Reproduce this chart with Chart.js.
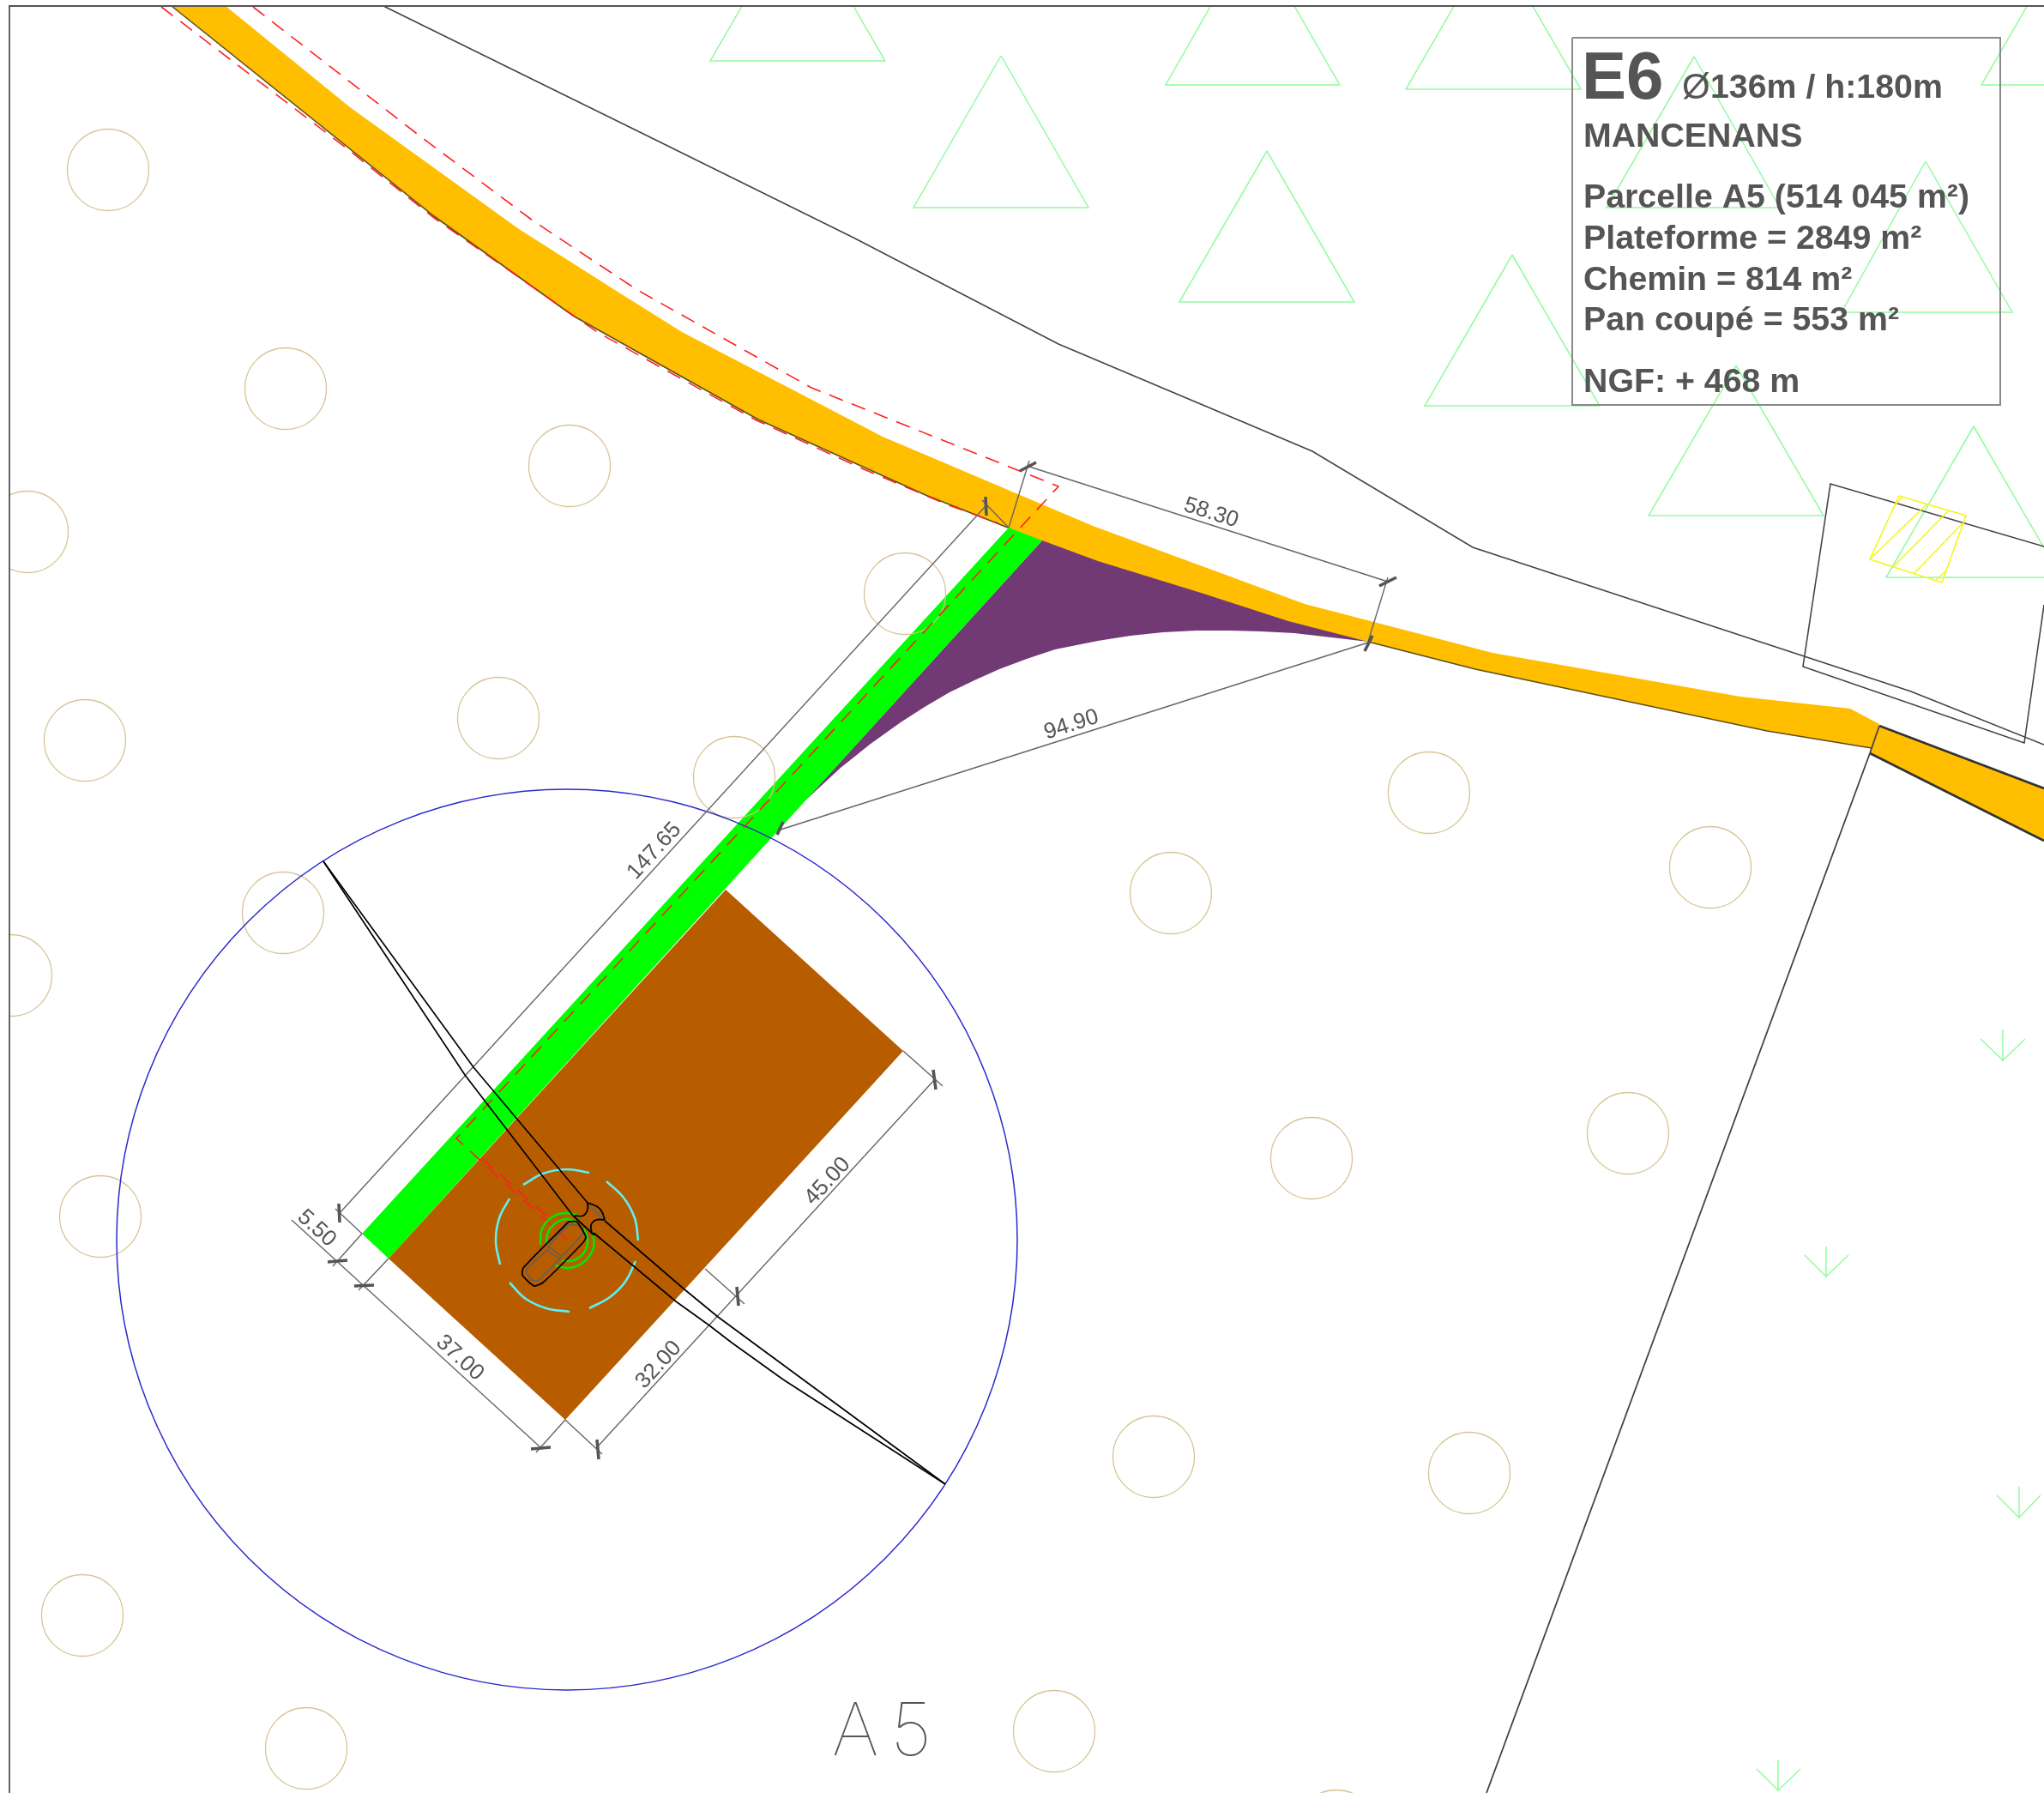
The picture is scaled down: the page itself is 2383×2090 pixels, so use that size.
<!DOCTYPE html>
<html lang="fr">
<head>
  <meta charset="UTF-8">
  <title>E6 - Mancenans</title>
  <script src="https://cdn.jsdelivr.net/npm/chart.js"></script>
  <style>
    body { margin: 0; background: #fff; }
    canvas { display: block; }
  </style>
</head>
<body>
  <canvas id="plan" width="2383" height="2090"></canvas>

  <script>
    // All coordinates are plan units
    const frameTop = [[10, 7], [2383, 7]];
    const frameLeft = [[11, 7], [11, 2090]];

    const treeCenters = [[126, 198], [333, 453], [664, 543], [32, 620], [99, 863], [581, 837], [1055, 692], [856, 906],
      [330, 1064], [13, 1137], [117, 1418], [1666, 924], [1994, 1011], [1365, 1041], [1529, 1350], [1898, 1321],
      [1345, 1698], [1713, 1717], [96, 1883], [357, 2038], [1229, 2018], [1558, 2134]];
    const rotorCenter = [[661, 1445]];

    const forestTriangles = [
      [[930, -105], [1032, 71], [828, 71]],
      [[1460, -78], [1562, 99], [1359, 99]],
      [[1741, -72], [1843, 104], [1639, 104]],
      [[1167, 65], [1269, 242], [1065, 242]],
      [[1477, 176], [1579, 352], [1375, 352]],
      [[1763, 297], [1865, 473], [1661, 473]],
      [[1975, 66], [2075, 242], [1873, 242]],
      [[2245, 188], [2346, 364], [2147, 364]],
      [[2412, -77], [2514, 99], [2310, 99]],
      [[2024, 426], [2126, 601], [1922, 601]],
      [[2301, 497], [2403, 673], [2199, 673]]
    ];
    const meadowArrows = [
      [[2309, 1211], [2335, 1236], [2361, 1211], [2335, 1236], [2335, 1200]],
      [[2104, 1463], [2129, 1488], [2155, 1463], [2129, 1488], [2129, 1453]],
      [[2328, 1743], [2354, 1769], [2379, 1743], [2354, 1769], [2354, 1733]],
      [[2048, 2062], [2073, 2087], [2099, 2062], [2073, 2087], [2073, 2051]]
    ];

    const roadSouthEdge = [[200, 7], [506, 252], [668, 368], [884, 489], [1079, 577], [1175, 615]];
    const roadEastEdge = [[1595, 748], [1720, 780], [2060, 852], [2182, 872]];
    const roadNorthEdge = [[263, 7], [408, 125], [605, 267], [720, 340], [795, 387], [1029, 509], [1274, 613], [1521, 704],
      [1740, 761], [2029, 812], [2157, 826], [2191, 844]];
    const roadFill = [...roadNorthEdge, [2182, 872], [2060, 852], [1720, 780], [1595, 748], [1502, 726], [1400, 694], [1280, 657],
      [1215, 632], [1175, 615], [1079, 577], [884, 489], [668, 368], [506, 252], [200, 7]];
    const secondRoad = [[2180, 878], [2191, 846], [2383, 919], [2383, 980], [2180, 878]];

    const northLane = [[447, 7], [750, 156], [995, 277], [1234, 401], [1530, 526], [1717, 638], [2000, 731], [2228, 806], [2383, 868]];
    const parcelLine = [[2191, 846], [2180, 878], [1733, 2090]];
    const building = [[2383, 637], [2134, 564], [2102, 777], [2360, 866], [2383, 705]];
    const yellowRect = [[2214, 578], [2292, 601], [2264, 679], [2180, 652], [2214, 578]];
    const yellowHatch = [
      [[2180, 652], [2246, 588]],
      [[2206, 662], [2272, 595]],
      [[2231, 669], [2288, 610]],
      [[2257, 676], [2269, 665]],
      [[2210, 588], [2218, 579]]
    ];

    const pathFill = [[1176, 615], [1215, 630], [453, 1467], [422, 1438]];
    const platformFill = [[846, 1037], [1053, 1225], [659, 1655], [453, 1467]];
    const cutFill = [[1215, 630], [1280, 654], [1400, 691], [1502, 724], [1595, 748], [1552, 743], [1509, 738], [1470, 736], [1433, 735],
      [1395, 735], [1356, 737], [1318, 741], [1280, 747], [1255, 752], [1230, 757], [1197, 768], [1165, 780], [1136, 793], [1107, 807],
      [1078, 824], [1050, 842], [1015, 867], [980, 895], [940, 932], [907, 968]];

    const easementNorth = [[295, 8], [494, 162], [621, 257], [743, 338], [946, 452], [1234, 567], [532, 1327], [662, 1446]];
    const easementInner = [[562, 1350], [640, 1420]];
    const easementSouth = [[188, 8], [403, 172], [506, 254], [696, 387], [882, 490], [1007, 547], [1104, 588], [1164, 610]];

    const dimensionLines = [
      [[1197, 543], [1618, 678]],
      [[907, 968], [1595, 749]],
      [[1149, 590], [395, 1415]],
      [[340, 1422], [630, 1687]],
      [[696, 1687], [1090, 1258]],
      [[1176, 615], [1200, 537]],
      [[1595, 748], [1618, 673]],
      [[1176, 615], [1145, 583]],
      [[422, 1438], [391, 1409]],
      [[422, 1438], [388, 1476]],
      [[453, 1467], [418, 1504]],
      [[659, 1655], [625, 1693]],
      [[659, 1655], [702, 1695]],
      [[1053, 1225], [1099, 1266]],
      [[822, 1479], [868, 1520]]
    ];
    const dimensionTicks = [
      [[1189, 549], [1208, 539]],
      [[1608, 683], [1628, 673]],
      [[1600, 741], [1591, 759]],
      [[913, 958], [906, 973]],
      [[1149, 579], [1150, 601]],
      [[395, 1403], [396, 1425]],
      [[382, 1471], [405, 1469]],
      [[413, 1499], [436, 1498]],
      [[619, 1689], [642, 1687]],
      [[696, 1678], [698, 1701]],
      [[859, 1500], [861, 1522]],
      [[1088, 1247], [1091, 1270]]
    ];
    const dimensionText = ['58.30', '94.90', '147.65', '5.50', '37.00', '32.00', '45.00'];
    const dimensionAnchors = [[1412, 598], [1249, 845], [763, 992], [369, 1432], [536, 1583], [768, 1591], [965, 1377]];
    const dimensionAngles = [17.8, -17.6, -47.6, 42.4, 42.4, -47.6, -47.6];

    const bladeOne = [
      [[377, 1004], [552, 1244], [685, 1402]],
      [[377, 1004], [542, 1253], [668, 1417]]
    ];
    const bladeTwo = [
      [[705, 1423], [798, 1503], [837, 1535], [1102, 1730]],
      [[692, 1437], [788, 1517], [827, 1545], [853, 1565], [913, 1608], [1102, 1730]]
    ];
    const hubCurves = [
      [[670, 1417], [680, 1417], [685, 1410], [685, 1402]],
      [[705, 1422], [695, 1422], [689, 1428], [690, 1437]],
      [[685, 1402], [697, 1407], [702, 1413], [705, 1422]]
    ];
    const hubBase = [[668, 1417], [693, 1440]];
    const hubGray = [[686, 1404], [703, 1421]];
    const nacelleOuter = [[663, 1424], [672, 1424], [678, 1432], [683, 1442], [680, 1448], [633, 1495], [623, 1499], [615, 1493],
      [609, 1486], [610, 1478], [663, 1424]];
    const nacelleInner = [[613, 1482], [620, 1492], [628, 1492], [678, 1440], [680, 1433], [672, 1428], [663, 1428], [640, 1452],
      [638, 1457], [615, 1478], [613, 1482]];
    const nacelleCross = [[[638, 1457], [653, 1468]], [[641, 1454], [656, 1465]]];

    const towerArcs = [
      [[630, 1451], [632, 1432], [645, 1418], [661, 1414], [677, 1418]],
      [[691, 1435], [692, 1454], [682, 1470], [664, 1478], [647, 1475]],
      [[637, 1450], [639, 1436], [649, 1425], [661, 1421], [673, 1425]],
      [[681, 1432], [685, 1446], [681, 1460], [669, 1469], [655, 1470]]
    ];
    const clearanceArcs = [
      [[610, 1381], [633, 1368], [660, 1363], [687, 1367]],
      [[707, 1377], [727, 1396], [740, 1420], [744, 1446]],
      [[741, 1470], [729, 1494], [711, 1512], [687, 1525]],
      [[664, 1529], [637, 1525], [613, 1514], [594, 1495]],
      [[583, 1474], [578, 1447], [582, 1420], [594, 1397]]
    ];

    const infoBox = [[1833, 44], [2332, 44], [2332, 472], [1833, 472], [1833, 44]];
    const turbineName = 'E6';
    const diameterSign = 'Ø';
    const turbineSize = '136m / h:180m';
    const infoLines = ['MANCENANS', 'Parcelle A5 (514 045 m²)', 'Plateforme = 2849 m²', 'Chemin = 814 m²', 'Pan coupé = 553 m²', 'NGF: + 468 m'];
    const infoBaselines = [171, 242, 290, 338, 385, 457];
    const parcelName = 'A5';

    const GRAY = '#555555';
    const MINT = '#92fb9e';
    const line = (data, color, width, extra) => Object.assign({
      data, showLine: true, fill: false, borderColor: color, borderWidth: width, pointRadius: 0, tension: 0, clip: 0
    }, extra);
    const solid = (data, color) => line(data, 'transparent', 0, { fill: 'shape', backgroundColor: color });

    // Paint order, bottom first. Chart.js paints the first dataset last, so this gets reversed below
    const layers = [
      ...forestTriangles.map(t => line([...t, t[0]], MINT, 1.5)),
      ...meadowArrows.map(a => line(a, MINT, 1.5)),
      line(northLane, '#444444', 1.6),
      line(building, '#444444', 1.6),
      line(yellowRect, '#f5f51e', 1.6),
      ...yellowHatch.map(h => line(h, '#f5f51e', 1.6)),
      solid(roadFill, '#ffbe00'),
      solid(secondRoad, '#ffbe00'),
      line(secondRoad.slice(1, 3), '#333333', 2.6),
      line(secondRoad.slice(3), '#333333', 2.6),
      line(roadSouthEdge, '#5a5020', 1.6),
      line(roadEastEdge, '#5a5020', 1.6),
      line(parcelLine, '#444444', 1.8),
      solid(cutFill, '#723a75'),
      solid(pathFill, '#00ff00'),
      solid(platformFill, '#b85c00'),
      line(treeCenters, 'transparent', 0, {
        showLine: false, pointRadius: 47.5, pointBorderColor: '#d6c493', pointBorderWidth: 1.3, pointBackgroundColor: 'transparent'
      }),
      line(rotorCenter, 'transparent', 0, {
        showLine: false, pointRadius: 525, pointBorderColor: '#2a2acc', pointBorderWidth: 1.5, pointBackgroundColor: 'transparent'
      }),
      line(easementNorth, '#ff2020', 1.6, { borderDash: [17, 11] }),
      line(easementInner, '#ff2020', 1.6, { borderDash: [17, 11] }),
      line(easementSouth, '#ff2020', 1.6, { borderDash: [17, 11] }),
      ...dimensionLines.map(d => line(d, '#666666', 1.4)),
      ...dimensionTicks.map(d => line(d, GRAY, 3.6)),
      ...clearanceArcs.map(a => line(a, '#5cf0f5', 2.6, { tension: 0.4 })),
      ...towerArcs.map(a => line(a, '#00e800', 2.6, { tension: 0.4 })),
      line(nacelleInner, '#5f5f5f', 1.6, { tension: 0.2 }),
      ...nacelleCross.map(c => line(c, '#5f5f5f', 1.4)),
      line(hubGray, '#666666', 2),
      line(nacelleOuter, '#000000', 1.8, { tension: 0.2 }),
      ...hubCurves.map(c => line(c, '#000000', 1.8, { tension: 0.4 })),
      line(hubBase, '#000000', 1.8),
      ...bladeOne.map(b => line(b, '#000000', 1.7)),
      ...bladeTwo.map(b => line(b, '#000000', 1.7)),
      line(infoBox, '#8a8a8a', 2),
      line(frameTop, '#555555', 1.8),
      line(frameLeft, '#555555', 1.8)
    ];

    const planLabels = {
      id: 'planLabels',
      afterDatasetsDraw(chart) {
        const { ctx, scales: { x, y } } = chart;
        ctx.save();
        ctx.fillStyle = GRAY;
        ctx.textBaseline = 'alphabetic';
        ctx.textAlign = 'left';

        ctx.font = 'bold 78px "Liberation Sans"';
        ctx.fillText(turbineName, x.getPixelForValue(1844), y.getPixelForValue(115));
        ctx.font = '42px "Liberation Sans"';
        ctx.fillText(diameterSign, x.getPixelForValue(1961), y.getPixelForValue(115));
        ctx.font = 'bold 39.3px "Liberation Sans"';
        ctx.fillText(turbineSize, x.getPixelForValue(1994), y.getPixelForValue(114));
        infoLines.forEach((text, i) => {
          ctx.fillText(text, x.getPixelForValue(1846), y.getPixelForValue(infoBaselines[i]));
        });

        ctx.font = '26px "Liberation Sans"';
        ctx.textAlign = 'center';
        ctx.textBaseline = 'middle';
        dimensionText.forEach((text, i) => {
          ctx.save();
          ctx.translate(x.getPixelForValue(dimensionAnchors[i][0]), y.getPixelForValue(dimensionAnchors[i][1]));
          ctx.rotate(dimensionAngles[i] * Math.PI / 180);
          ctx.fillText(text, 0, 0);
          ctx.restore();
        });

        ctx.font = '100 85px Inter, Lato, Roboto';
        ctx.textAlign = 'left';
        ctx.textBaseline = 'alphabetic';
        ctx.letterSpacing = '14px';
        ctx.fillText(parcelName, x.getPixelForValue(970), y.getPixelForValue(2046));
        ctx.restore();
      }
    };

    new Chart(document.getElementById('plan').getContext('2d'), {
      type: 'scatter',
      data: { datasets: layers.reverse() },
      options: {
        responsive: false,
        animation: false,
        layout: { autoPadding: false, padding: { left: 10, top: 6, right: 0, bottom: 0 } },
        plugins: { legend: { display: false }, tooltip: { enabled: false } },
        scales: {
          x: { type: 'linear', min: 10, max: 2383, display: false },
          y: { type: 'linear', min: 6, max: 2090, reverse: true, display: false }
        }
      },
      plugins: [planLabels]
    });
  </script>
</body>
</html>
